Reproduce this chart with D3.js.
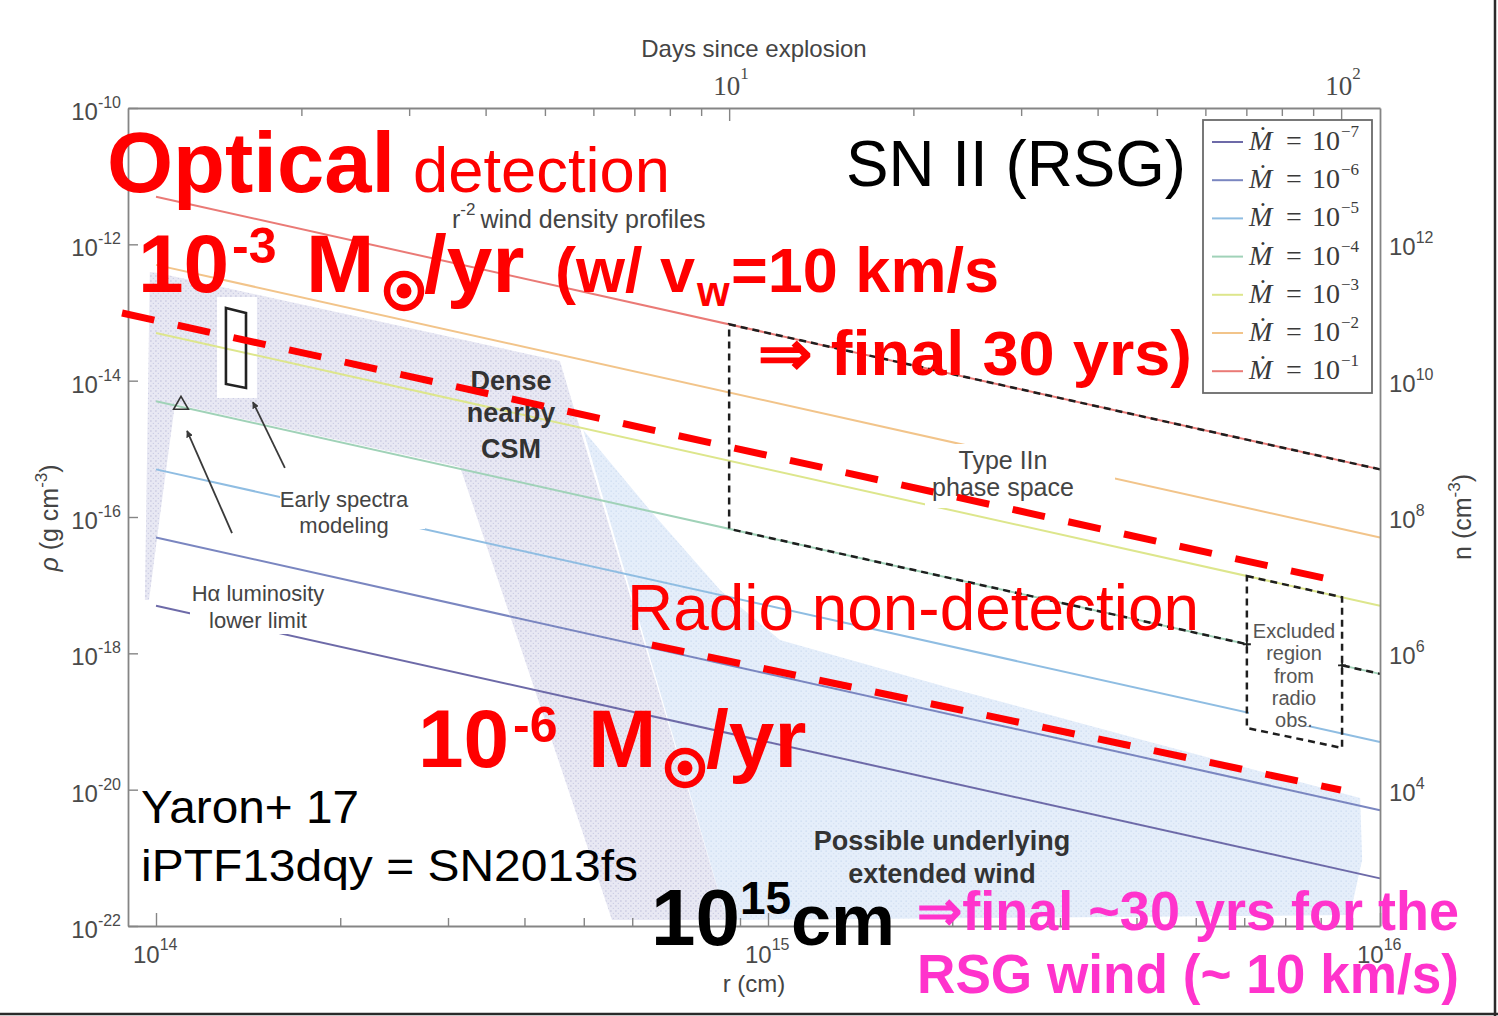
<!DOCTYPE html>
<html><head><meta charset="utf-8">
<script src="https://cdn.jsdelivr.net/npm/d3@7"></script>
<style>body{margin:0;background:#fff}svg{display:block}</style>
</head><body>
<script>
// ---------------- DATA ----------------
const rDomain = [9e13, 1e16];            // r (cm)
const rhoDomain = [1e-22, 1e-10];        // rho (g cm^-3)
const nDomain = [1e2, 1e14];             // n (cm^-3)
const shockVelocity = 1e9;               // cm/s (days axis)
const secondsPerDay = 86400;
const rMajorTicks = [1e14, 1e15, 1e16];
const rTickExponents = ["14", "15", "16"];
const rMinorTicks = [2e14,3e14,4e14,5e14,6e14,7e14,8e14,9e14,2e15,3e15,4e15,5e15,6e15,7e15,8e15,9e15];
const dayMajorTicks = [10, 100];
const dayTickExponents = ["1", "2"];
const dayMinorTicks = [2,3,4,5,6,7,8,9,20,30,40,50,60,70,80,90];
const rhoTicks = [1e-10,1e-12,1e-14,1e-16,1e-18,1e-20,1e-22];
const rhoTickExponents = ["-10","-12","-14","-16","-18","-20","-22"];
const nTicks = [1e12,1e10,1e8,1e6,1e4];
const nTickExponents = ["12","10","8","6","4"];

const massLossExponents = ["-7","-6","-5","-4","-3","-2","-1"];
const massLossColors = ["#6d6aa8","#7a86c0","#8fbde2","#a0d2b8","#dde68c","#f2c48a","#ea7a76"];
const profileR = [1e14, 1e16];
const rhoAtInner = [5e-18,5e-17,5e-16,5e-15,5e-14,5e-13,5e-12];
const rhoAtOuter = [5e-22,5e-21,5e-20,5e-19,5e-18,5e-17,5e-16];

const denseCSM = [[1.008e14,3.80e-13],[4.57e14,1.94e-14],[8.57e14,1.22e-22],[5.56e14,1.22e-22],
  [3.14e14,5.41e-16],[1.074e14,4.55e-15],[1.023e14,1.78e-16],[9.74e13,6.05e-18],[9.59e13,6.05e-18],[9.77e13,3.93e-13]];
const extendedWind = [[4.99e14,1.89e-15],[6.41e14,1.27e-16],[8.35e14,8.49e-18],[1.046e15,1.57e-18],
  [1.983e15,3.10e-19],[4.21e15,5.00e-20],[7.40e15,1.30e-20],[9.28e15,7.55e-21],[9.35e15,9.29e-22],[8.93e15,1.45e-22],[8.57e14,1.22e-22]];
const earlySpectraClear = [[1.258e14,1.69e-13],[1.462e14,1.69e-13],[1.462e14,5.57e-15],[1.258e14,5.57e-15]];
const earlySpectraBox = [[1.301e14,1.164e-13],[1.403e14,9.83e-14],[1.403e14,7.81e-15],[1.301e14,8.93e-15]];
const halphaLimit = [1.0986e14, 4.40e-15];
const arrowsData = [
  {from:[1.331e14,5.82e-17], to:[1.124e14,1.83e-15]},
  {from:[1.624e14,5.24e-16], to:[1.44e14,4.86e-15]}
];
const typeIInBox = [[1e16,5e-16],[8.64e14,6.7e-14],[8.64e14,6.7e-17],[1e16,5e-19]];
const excludedBox = [[6.06e15,1.36e-17],[8.67e15,6.65e-18],[8.67e15,4.09e-20],[6.06e15,8.04e-20]];
const excludedCrossings = [[6.06e15,1.36e-18],[8.67e15,6.65e-19]];
const opticalLimit = [[8.80e13,9.83e-14],[8.80e15,1.076e-17]];
const radioLimit = [[6.46e14,1.325e-18],[8.63e15,9.88e-21]];

// ---------------- SETUP ----------------
const svg = d3.select("body").append("svg").attr("width",1498).attr("height",1016);
svg.append("rect").attr("width",1498).attr("height",1016).attr("fill","#fff");
const x = d3.scaleLog().domain(rDomain).range([128,1380]);
const y = d3.scaleLog().domain(rhoDomain).range([926,108]);
const nScale = d3.scaleLog().domain(nDomain).range([926,108]);
const days = d3.scaleLog().domain(rDomain.map(r=>r/(shockVelocity*secondsPerDay))).range([128,1380]);
const line = d3.line().x(d=>x(d[0])).y(d=>y(d[1]));
const poly = pts => line(pts) + "Z";

const defs = svg.append("defs");
const pp = defs.append("pattern").attr("id","pPurple").attr("width",5).attr("height",5).attr("patternUnits","userSpaceOnUse");
pp.append("rect").attr("width",5).attr("height",5).attr("fill","#e8e8f3");
pp.append("rect").attr("x",0.3).attr("y",0.4).attr("width",1.2).attr("height",1.2).attr("fill","#b8bad8");
pp.append("rect").attr("x",2.8).attr("y",2.9).attr("width",1.1).attr("height",1.1).attr("fill","#c9cbe4");
const pb = defs.append("pattern").attr("id","pBlue").attr("width",5).attr("height",5).attr("patternUnits","userSpaceOnUse");
pb.append("rect").attr("width",5).attr("height",5).attr("fill","#e5eefa");
pb.append("rect").attr("x",0.5).attr("y",0.5).attr("width",1.3).attr("height",1.3).attr("fill","#cbdbf0");
pb.append("rect").attr("x",3).attr("y",3).attr("width",1.2).attr("height",1.2).attr("fill","#d6e3f4");
defs.append("marker").attr("id","arr").attr("viewBox","0 0 10 10").attr("refX",9).attr("refY",5)
  .attr("markerWidth",7).attr("markerHeight",7).attr("orient","auto-start-reverse").attr("markerUnits","userSpaceOnUse")
  .append("path").attr("d","M0,0L10,5L0,10Z").attr("fill","#3a3a3a");

// stipple regions
svg.append("path").attr("d",poly(extendedWind)).attr("fill","url(#pBlue)");
svg.append("path").attr("d",poly(denseCSM)).attr("fill","url(#pPurple)");
svg.append("path").attr("d",poly(earlySpectraClear)).attr("fill","#fff");

// mass-loss lines
massLossExponents.forEach((e,i)=>{
  svg.append("path").attr("d",line([[profileR[0],rhoAtInner[i]],[profileR[1],rhoAtOuter[i]]]))
    .attr("stroke",massLossColors[i]).attr("stroke-width",2).attr("fill","none");
});

// Type IIn dashed box
svg.append("path").attr("d",line(typeIInBox)).attr("fill","none").attr("stroke","#1e1e1e")
  .attr("stroke-width",2.5).attr("stroke-dasharray","7,5");

// white label boxes
[[925,444,1115,508],[280,487,425,529],[190,580,330,634],[1249,612,1340,726]].forEach(b=>{
  svg.append("rect").attr("x",b[0]).attr("y",b[1]).attr("width",b[2]-b[0]).attr("height",b[3]-b[1]).attr("fill","#fff");
});

// excluded region box
svg.append("path").attr("d",poly(excludedBox)).attr("fill","none").attr("stroke","#1e1e1e")
  .attr("stroke-width",2.5).attr("stroke-dasharray","7,5");
excludedCrossings.forEach(c=>{
  const cx=x(c[0]), cy=y(c[1]);
  svg.append("path").attr("d",`M${cx-4},${cy}H${cx+4}M${cx},${cy-4}V${cy+4}`).attr("stroke","#222").attr("stroke-width",1.8);
});
// early spectra box
svg.append("path").attr("d",poly(earlySpectraBox)).attr("fill","none").attr("stroke","#222").attr("stroke-width",2.6);
// H-alpha triangle
svg.append("path").attr("d",d3.symbol(d3.symbolTriangle,95)())
  .attr("transform",`translate(${x(halphaLimit[0])},${y(halphaLimit[1])})`)
  .attr("fill","none").attr("stroke","#333").attr("stroke-width",1.6);
// arrows
arrowsData.forEach(a=>{
  svg.append("line").attr("x1",x(a.from[0])).attr("y1",y(a.from[1])).attr("x2",x(a.to[0])).attr("y2",y(a.to[1]))
    .attr("stroke","#3a3a3a").attr("stroke-width",1.8).attr("marker-end","url(#arr)");
});

// ---------------- AXES ----------------
const axisColor = "#858585";
function styleAxis(g){ g.select(".domain").attr("stroke",axisColor).attr("stroke-width",1.8);
  g.selectAll(".tick line").attr("stroke",axisColor).attr("stroke-width",1.4); }
const gB = svg.append("g").attr("transform","translate(0,926)")
  .call(d3.axisBottom(x).tickValues(rMajorTicks.concat(rMinorTicks)).tickSize(-8).tickSizeOuter(0).tickFormat(""));
styleAxis(gB); gB.selectAll(".tick line").filter(d=>rMajorTicks.includes(d)).attr("y2",-13);
const gT = svg.append("g").attr("transform","translate(0,108)")
  .call(d3.axisTop(days).tickValues(dayMajorTicks.concat(dayMinorTicks)).tickSize(-8).tickSizeOuter(0).tickFormat(""));
styleAxis(gT); gT.selectAll(".tick line").filter(d=>dayMajorTicks.includes(d)).attr("y2",13);
const gL = svg.append("g").attr("transform","translate(128,0)")
  .call(d3.axisLeft(y).tickValues(rhoTicks).tickSize(-10).tickSizeOuter(0).tickFormat(""));
styleAxis(gL);
const gR = svg.append("g").attr("transform","translate(1380,0)")
  .call(d3.axisRight(nScale).tickValues([]).tickSizeOuter(0));
styleAxis(gR);

const labelColor = "#4a4a4a";
function supText(xp, yp, base, exp, o){
  const t = svg.append("text").attr("x",xp).attr("y",yp).attr("text-anchor",o.anchor||"start")
    .attr("font-family",o.family||"'Liberation Sans',Arial,sans-serif").attr("fill",o.fill||labelColor)
    .attr("font-size",o.size).attr("font-weight",o.weight||"normal");
  t.append("tspan").text(base);
  t.append("tspan").attr("font-size",o.sup).attr("dy",-o.dy).text(exp);
  return t;
}
rhoTicks.forEach((v,i)=>supText(121, y(v)+12, "10", rhoTickExponents[i], {size:24,sup:16,dy:12,anchor:"end"}));
nTicks.forEach((v,i)=>supText(1389, nScale(v)+11, "10", nTickExponents[i], {size:24,sup:16,dy:12}));
rMajorTicks.forEach((v,i)=>supText(x(v)-23, 963, "10", rTickExponents[i], {size:24,sup:16,dy:13}));
dayMajorTicks.forEach((v,i)=>supText(days(v)-16, 95, "10", dayTickExponents[i], {size:27,sup:17,dy:16,family:"'Liberation Serif','Times New Roman',serif"}));

const sans = "'Liberation Sans',Arial,sans-serif";
function txt(xp, yp, s, o){
  const t = svg.append("text").attr("x",xp).attr("y",yp).attr("text-anchor",o.anchor||"start")
    .attr("font-family",o.family||sans).attr("fill",o.fill||"#3c3c3c").attr("font-size",o.size)
    .attr("font-weight",o.weight||"normal").attr("font-style",o.style||"normal").text(s);
  if(o.len){ t.attr("textLength",o.len).attr("lengthAdjust","spacingAndGlyphs"); }
  return t;
}
txt(754, 57, "Days since explosion", {size:24, anchor:"middle", fill:"#444"});
txt(754, 992, "r (cm)", {size:24, anchor:"middle", fill:"#444"});
// rho label
const rl = svg.append("text").attr("transform","translate(58,518) rotate(-90)").attr("text-anchor","middle")
  .attr("font-family",sans).attr("font-size",25).attr("fill","#444");
rl.append("tspan").attr("font-style","italic").text("ρ");
rl.append("tspan").text(" (g cm");
rl.append("tspan").attr("font-size",17).attr("dy",-11).text("-3");
rl.append("tspan").attr("dy",11).text(")");
const nl = svg.append("text").attr("transform","translate(1471,517) rotate(-90)").attr("text-anchor","middle")
  .attr("font-family",sans).attr("font-size",25).attr("fill","#444");
nl.append("tspan").text("n (cm");
nl.append("tspan").attr("font-size",17).attr("dy",-11).text("-3");
nl.append("tspan").attr("dy",11).text(")");

// legend
svg.append("rect").attr("x",1203).attr("y",120).attr("width",169).attr("height",273)
  .attr("fill","#fff").attr("stroke","#6a6a6a").attr("stroke-width",1.8);
const serif = "'Liberation Serif','DejaVu Serif',serif";
massLossExponents.forEach((e,i)=>{
  const by = 150 + i*38.2;
  svg.append("line").attr("x1",1212).attr("x2",1243).attr("y1",by-8).attr("y2",by-8)
    .attr("stroke",massLossColors[i]).attr("stroke-width",2);
  txt(1249, by, "Ṁ", {size:28, family:serif, style:"italic", fill:"#3a3a3a"});
  txt(1286, by, "=", {size:28, family:serif, fill:"#3a3a3a"});
  txt(1312, by, "10", {size:28, family:serif, fill:"#3a3a3a"});
  txt(1341, by-13, e.replace("-","−"), {size:17, family:serif, fill:"#3a3a3a"});
});

// figure labels
const rw = svg.append("text").attr("x",452).attr("y",228).attr("font-family",sans).attr("font-size",25).attr("fill","#444");
rw.append("tspan").text("r");
rw.append("tspan").attr("font-size",17).attr("dy",-13).text("-2");
rw.append("tspan").attr("dy",13).attr("dx",5).text("wind density profiles");
txt(1003, 469, "Type IIn", {size:25, anchor:"middle", fill:"#444"});
txt(1003, 496, "phase space", {size:25, anchor:"middle", fill:"#444"});
txt(344, 507, "Early spectra", {size:22, anchor:"middle", fill:"#444"});
txt(344, 533, "modeling", {size:22, anchor:"middle", fill:"#444"});
txt(258, 601, "Hα luminosity", {size:22, anchor:"middle", fill:"#444"});
txt(258, 628, "lower limit", {size:22, anchor:"middle", fill:"#444"});
["Excluded","region","from","radio","obs."].forEach((s,i)=>txt(1294, 638+i*22.3, s, {size:20, anchor:"middle", fill:"#555"}));
txt(511, 390, "Dense", {size:27, anchor:"middle", weight:"bold", fill:"#333"});
txt(511, 422, "nearby", {size:27, anchor:"middle", weight:"bold", fill:"#333"});
txt(511, 458, "CSM", {size:27, anchor:"middle", weight:"bold", fill:"#333"});
txt(942, 850, "Possible underlying", {size:27, anchor:"middle", weight:"bold", fill:"#333"});
txt(942, 883, "extended wind", {size:27, anchor:"middle", weight:"bold", fill:"#333"});

// ---------------- SLIDE ANNOTATIONS ----------------
[opticalLimit, radioLimit].forEach(seg=>{
  svg.append("path").attr("d",line(seg)).attr("stroke","#ff0000").attr("stroke-width",7)
    .attr("stroke-dasharray","33,24").attr("fill","none");
});
const red = "#ff0000";
txt(107, 192, "Optical", {size:86, weight:"bold", fill:red, len:288});
txt(413, 192, "detection", {size:63, fill:red, len:257});
txt(846, 186, "SN II (RSG)", {size:64, fill:"#000", len:340});
function sunSymbol(cx, cy){
  svg.append("circle").attr("cx",cx).attr("cy",cy).attr("r",17).attr("fill","none").attr("stroke",red).attr("stroke-width",6.5);
  svg.append("circle").attr("cx",cx).attr("cy",cy).attr("r",7.5).attr("fill",red);
}
txt(138, 292, "10", {size:82, weight:"bold", fill:red});
txt(232, 263, "-3", {size:50, weight:"bold", fill:red});
txt(306, 292, "M", {size:82, weight:"bold", fill:red});
sunSymbol(404, 291);
txt(424, 292, "/yr", {size:82, weight:"bold", fill:red});
txt(555, 292, "(w/ v", {size:63, weight:"bold", fill:red});
txt(697, 306, "w", {size:42, weight:"bold", fill:red});
txt(731, 292, "=10 km/s", {size:63, weight:"bold", fill:red});
txt(758, 375, "⇒ final 30 yrs)", {size:63, weight:"bold", fill:red, len:434});
txt(627, 630, "Radio non-detection", {size:65, fill:red, len:572});
txt(418, 767, "10", {size:82, weight:"bold", fill:red});
txt(513, 742, "-6", {size:50, weight:"bold", fill:red});
txt(588, 767, "M", {size:82, weight:"bold", fill:red});
sunSymbol(685, 768);
txt(706, 767, "/yr", {size:82, weight:"bold", fill:red});
txt(141, 823, "Yaron+ 17", {size:46, fill:"#000", len:218});
txt(141, 881, "iPTF13dqy = SN2013fs", {size:45, fill:"#000", len:497});
txt(651, 945, "10", {size:80, weight:"bold", fill:"#000"});
txt(740, 914, "15", {size:46, weight:"bold", fill:"#000"});
txt(791, 945, "cm", {size:72, weight:"bold", fill:"#000", len:104});
txt(917, 930, "⇒final ~30 yrs for the", {size:56, weight:"bold", fill:"#ff33cc", len:542});
txt(917, 993, "RSG wind (~ 10 km/s)", {size:56, weight:"bold", fill:"#ff33cc", len:542});

// slide border
svg.append("line").attr("x1",1495).attr("x2",1495).attr("y1",0).attr("y2",1016).attr("stroke","#2a2a2a").attr("stroke-width",2.5);
svg.append("line").attr("x1",0).attr("x2",1498).attr("y1",1014).attr("y2",1014).attr("stroke","#2a2a2a").attr("stroke-width",2.5);
</script>
</body></html>
